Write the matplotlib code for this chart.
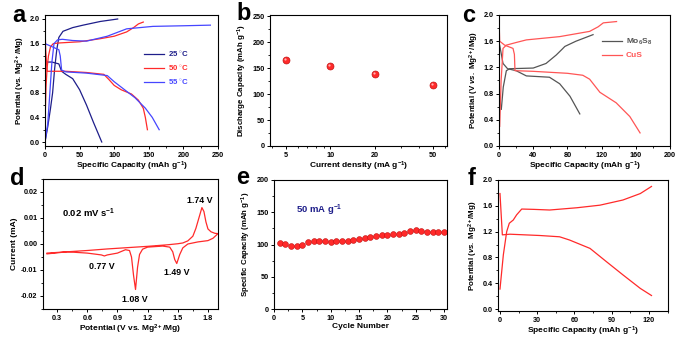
import matplotlib
matplotlib.use("Agg")
import matplotlib.pyplot as plt
from matplotlib.ticker import MultipleLocator, FixedLocator, NullFormatter, FormatStrFormatter
import matplotlib.transforms as mtransforms

plt.rcParams['font.family'] = ['Liberation Sans', 'DejaVu Sans']
plt.rcParams['font.weight'] = 'bold'
plt.rcParams['axes.labelweight'] = 'bold'
plt.rcParams['mathtext.fontset'] = 'custom'
plt.rcParams['mathtext.rm'] = 'Liberation Sans:bold'
plt.rcParams['mathtext.it'] = 'Liberation Sans:italic:bold'
plt.rcParams['mathtext.bf'] = 'Liberation Sans:bold'
plt.rcParams['mathtext.default'] = 'rm'
plt.rcParams['axes.linewidth'] = 0.8

# ---- (a) charge/discharge at different temperatures ----
temps = ["25 $^{\\circ}$C", "50 $^{\\circ}$C", "55 $^{\\circ}$C"]
temp_colors = ["#1e1e8a", "#ff2a2a", "#4646ff"]
dis_cap_25 = [0, 0.5, 10, 20, 24, 30, 40, 50, 60, 70, 82]
dis_v_25 = [1.9, 1.3, 1.3, 1.27, 1.15, 1.1, 1.03, 0.85, 0.6, 0.32, 0.0]
chg_cap_25 = [0, 4, 8, 11, 14, 17, 20, 26, 40, 55, 80, 105]
chg_v_25 = [0.0, 0.25, 0.55, 0.8, 1.2, 1.5, 1.7, 1.8, 1.86, 1.9, 1.96, 2.0]
dis_cap_50 = [0, 1, 3, 30, 60, 85, 92, 100, 110, 125, 135, 142, 145, 148]
dis_v_50 = [1.88, 1.5, 1.15, 1.15, 1.13, 1.1, 1.02, 0.92, 0.85, 0.78, 0.68, 0.55, 0.4, 0.2]
chg_cap_50 = [0, 1.5, 3, 5, 8, 12, 20, 50, 80, 100, 118, 128, 135, 142]
chg_v_50 = [0.3, 0.9, 1.2, 1.4, 1.55, 1.6, 1.61, 1.63, 1.68, 1.72, 1.79, 1.86, 1.92, 1.95]
dis_cap_55 = [0, 10, 20, 22, 24, 30, 60, 90, 100, 115, 130, 145, 155, 165]
dis_v_55 = [1.6, 1.55, 1.5, 1.4, 1.17, 1.14, 1.12, 1.08, 0.98, 0.85, 0.72, 0.55, 0.4, 0.2]
chg_cap_55 = [0, 4, 7, 10, 13, 18, 25, 40, 60, 90, 118, 156, 200, 239]
chg_v_55 = [0.0, 0.3, 0.8, 1.3, 1.6, 1.66, 1.67, 1.65, 1.64, 1.72, 1.84, 1.88, 1.89, 1.9]

# ---- (b) rate capability ----
current_density = [5, 10, 20, 50]
discharge_capacity = [165, 154, 138, 117]

# ---- (c) Mo6S8 vs CuS ----
mo_dis_cap = [0.8, 4.7, 10, 20, 32, 59, 71, 83, 94.5]
mo_dis_v = [1.54, 1.26, 1.18, 1.15, 1.07, 1.05, 0.95, 0.76, 0.49]
mo_chg_cap = [2.7, 5, 8.6, 12.5, 40, 55, 67, 74, 77, 90, 110]
mo_chg_v = [0.56, 0.9, 1.15, 1.18, 1.19, 1.26, 1.39, 1.48, 1.52, 1.6, 1.7]
cus_dis_cap = [0, 0.8, 6.6, 16.4, 18, 18.7, 40, 80, 98, 106, 118, 137, 153, 165]
cus_dis_v = [1.95, 1.6, 1.54, 1.49, 1.4, 1.15, 1.14, 1.11, 1.08, 1.02, 0.82, 0.66, 0.45, 0.2]
cus_chg_cap = [0.8, 2.5, 4.7, 8.6, 20, 32, 71, 106, 116, 122, 137.5]
cus_chg_v = [0.3, 1.0, 1.49, 1.54, 1.58, 1.62, 1.67, 1.75, 1.82, 1.88, 1.9]

# ---- (d) cyclic voltammogram ----
cv_up_v = [0.2, 0.4, 0.6, 0.8, 1.0, 1.2, 1.4, 1.5, 1.55, 1.6, 1.65, 1.68, 1.71, 1.74,
           1.76, 1.78, 1.8, 1.83, 1.87, 1.9]
cv_up_i = [-0.0035, -0.003, -0.0025, -0.0019, -0.0014, -0.0009, -0.0003, 0.0001, 0.0004,
           0.0012, 0.003, 0.006, 0.01, 0.014, 0.0125, 0.0085, 0.0058, 0.0047, 0.0041, 0.004]
cv_down_v = [1.9, 1.85, 1.8, 1.7, 1.6, 1.55, 1.52, 1.49, 1.47, 1.45, 1.42, 1.35, 1.2, 1.15,
             1.12, 1.1, 1.08, 1.06, 1.04, 1.02, 0.98, 0.9, 0.8, 0.77, 0.74, 0.6, 0.4, 0.2]
cv_down_i = [0.004, 0.0022, 0.0013, 0.0008, 0.0, -0.0015, -0.004, -0.0075, -0.006, -0.003,
             -0.0012, -0.0008, -0.0012, -0.002, -0.004, -0.009, -0.0175, -0.012, -0.005,
             -0.0025, -0.0022, -0.0035, -0.0042, -0.0046, -0.0042, -0.0035, -0.003, -0.0038]
cv_peaks = [0.77, 1.08, 1.49, 1.74]

# ---- (e) cycling at 50 mA/g ----
cycles = list(range(1, 31))
cycle_capacity = [103, 101, 98, 97, 100, 104, 106, 105, 105, 104, 105, 105, 106, 107, 109,
                  110, 112, 113, 114, 115, 116, 117, 118, 121, 122, 121, 120, 120, 119, 119]

# ---- (f) single charge/discharge ----
f_dis_cap = [0, 1.9, 8, 32, 48, 56, 72.5, 86, 99, 113, 122]
f_dis_v = [1.79, 1.15, 1.16, 1.14, 1.12, 1.07, 0.94, 0.73, 0.53, 0.32, 0.21]
f_chg_cap = [0, 2.7, 5.4, 7.5, 10.7, 13.4, 17.5, 27, 40, 62, 80.5, 99, 113, 122]
f_chg_v = [0.31, 0.84, 1.2, 1.33, 1.38, 1.46, 1.55, 1.545, 1.535, 1.57, 1.61, 1.69, 1.79, 1.9]

RED = "#ff2a2a"
TICK_FS = 5.2
XLABEL_FS = 6.0
YLABEL_FS = 5.7
LW = 0.9

fig = plt.figure(figsize=(6.8, 3.42), dpi=100)
W, H = 680.0, 342.0


def make_axes(l, r, t, b):
    return fig.add_axes([l / W, 1 - b / H, (r - l) / W, (b - t) / H])


def style(ax):
    ax.tick_params(which='major', direction='out', length=2.5, width=0.7,
                   labelsize=TICK_FS, pad=1.5)
    ax.tick_params(which='minor', direction='out', length=1.5, width=0.6)
    for lab in ax.get_xticklabels() + ax.get_yticklabels():
        lab.set_fontweight('bold')


def panel_letter(x, y, s):
    fig.text(x / W, 1 - y / H, s, fontsize=17, fontweight='bold', va='top', ha='left')


sup = "$^{2+}$"
cap_label = "Specific Capacity (mAh g$^{-1}$)"

# (a)
ax = make_axes(45, 218, 15, 146)
pairs = [(dis_cap_25, dis_v_25, chg_cap_25, chg_v_25),
         (dis_cap_50, dis_v_50, chg_cap_50, chg_v_50),
         (dis_cap_55, dis_v_55, chg_cap_55, chg_v_55)]
for (dc, dv, cc, cvv), col, lab in zip(pairs, temp_colors, temps):
    ax.plot(dc, dv, color=col, lw=LW, label=lab)
    ax.plot(cc, cvv, color=col, lw=LW)
ax.set_xlim(0, 250)
ax.set_ylim(-0.065, 2.065)
ax.xaxis.set_major_locator(MultipleLocator(50))
ax.xaxis.set_minor_locator(MultipleLocator(25))
ax.yaxis.set_major_locator(MultipleLocator(0.4))
ax.yaxis.set_minor_locator(MultipleLocator(0.2))
ax.yaxis.set_major_formatter(FormatStrFormatter('%.1f'))
ax.set_xlabel(cap_label, fontsize=XLABEL_FS, labelpad=1)
ax.set_ylabel("Potential (vs. Mg" + sup + "/Mg)", fontsize=YLABEL_FS, labelpad=2)
ax.legend(loc='upper left', bbox_to_anchor=(0.57, 0.74), frameon=False,
          fontsize=5.6, handlelength=2.6, labelspacing=0.6, handletextpad=0.6,
          labelcolor='linecolor', borderaxespad=0, borderpad=0)
style(ax)
panel_letter(12, 4, "a")

# (b)
ax = make_axes(270, 447, 15, 146)
ax.plot(current_density, discharge_capacity, 'o', ms=5, mfc=RED, mec="#c01010", mew=0.5)
shift = ax.transData + mtransforms.ScaledTranslation(-0.6 / 72, 0.6 / 72, fig.dpi_scale_trans)
ax.plot(current_density, discharge_capacity, 'o', ms=1.6, mfc="#ffb0b0", mec='none',
        transform=shift)
ax.set_xscale('log')
ax.set_xlim(3.9, 62)
ax.set_ylim(0, 252)
ax.xaxis.set_major_locator(FixedLocator(current_density))
ax.xaxis.set_minor_locator(FixedLocator([4, 6, 7, 8, 9, 30, 40, 60]))
ax.xaxis.set_minor_formatter(NullFormatter())
ax.set_xticklabels([str(v) for v in current_density])
ax.yaxis.set_major_locator(MultipleLocator(50))
ax.yaxis.set_minor_locator(MultipleLocator(25))
ax.set_xlabel("Current density (mA g$^{-1}$)", fontsize=XLABEL_FS, labelpad=1)
ax.set_ylabel("Discharge Capacity (mAh g$^{-1}$)", fontsize=YLABEL_FS, labelpad=2)
style(ax)
panel_letter(236, 2, "b")

# (c)
ax = make_axes(499, 670, 15, 146)
GREY = "#555555"
CUS = "#ff5555"
ax.plot(mo_dis_cap, mo_dis_v, color=GREY, lw=LW, label="Mo$_6$S$_8$")
ax.plot(mo_chg_cap, mo_chg_v, color=GREY, lw=LW)
ax.plot(cus_dis_cap, cus_dis_v, color=CUS, lw=LW, label="CuS")
ax.plot(cus_chg_cap, cus_chg_v, color=CUS, lw=LW)
ax.set_xlim(0, 200)
ax.set_ylim(0, 2.0)
ax.xaxis.set_major_locator(MultipleLocator(40))
ax.xaxis.set_minor_locator(MultipleLocator(20))
ax.yaxis.set_major_locator(MultipleLocator(0.4))
ax.yaxis.set_minor_locator(MultipleLocator(0.2))
ax.yaxis.set_major_formatter(FormatStrFormatter('%.1f'))
ax.set_xlabel(cap_label, fontsize=XLABEL_FS, labelpad=1)
ax.set_ylabel("Potential (V $\\it{vs.}$ Mg" + sup + "/Mg)", fontsize=YLABEL_FS, labelpad=2)
ax.legend(loc='upper left', bbox_to_anchor=(0.6, 0.83), frameon=False, fontsize=6.0,
          handlelength=2.4, labelspacing=0.5, handletextpad=0.5, labelcolor='linecolor',
          borderaxespad=0, borderpad=0)
style(ax)
panel_letter(462, 4, "c")

# (d)
ax = make_axes(43, 218, 179, 309)
ax.plot(cv_up_v + cv_down_v, cv_up_i + cv_down_i, color=RED, lw=LW)
ax.set_xlim(0.16, 1.9)
ax.set_ylim(-0.025, 0.025)
ax.xaxis.set_major_locator(MultipleLocator(0.3))
ax.xaxis.set_minor_locator(MultipleLocator(0.15))
ax.yaxis.set_major_locator(MultipleLocator(0.01))
ax.yaxis.set_minor_locator(MultipleLocator(0.005))
ax.xaxis.set_major_formatter(FormatStrFormatter('%.1f'))
ax.yaxis.set_major_formatter(FormatStrFormatter('%.2f'))
ax.set_xlabel("Potential (V vs. Mg" + sup + "/Mg)", fontsize=XLABEL_FS, labelpad=1)
ax.set_ylabel("Current (mA)", fontsize=XLABEL_FS, labelpad=2)
ax.text(0.11, 0.71, "0.02 mV s$^{-1}$", transform=ax.transAxes, fontsize=6.8, fontweight='bold')
peak_label_pos = {0.77: (0.74, -0.0085), 1.08: (1.07, -0.0215),
                  1.49: (1.49, -0.0110), 1.74: (1.72, 0.0168)}
for p in cv_peaks:
    x, y = peak_label_pos[p]
    ax.text(x, y, f"{p:.2f} V", fontsize=6.4, fontweight='bold', ha='center', va='center')
style(ax)
panel_letter(10, 167, "d")

# (e)
ax = make_axes(274, 447, 180, 309)
ax.plot(cycles, cycle_capacity, 'o', ms=4.2, mfc=RED, mec="#c01010", mew=0.4)
ax.set_xlim(0, 30.5)
ax.set_ylim(0, 200)
ax.xaxis.set_major_locator(MultipleLocator(5))
ax.xaxis.set_minor_locator(MultipleLocator(2.5))
ax.yaxis.set_major_locator(MultipleLocator(50))
ax.yaxis.set_minor_locator(MultipleLocator(25))
ax.set_xlabel("Cycle Number", fontsize=XLABEL_FS, labelpad=1)
ax.set_ylabel(cap_label, fontsize=YLABEL_FS, labelpad=2)
ax.text(0.13, 0.74, "50 mA g$^{-1}$", transform=ax.transAxes, fontsize=6.8,
        fontweight='bold', color="#1e1e8a")
style(ax)
panel_letter(236, 166, "e")

# (f)
ax = make_axes(498, 668, 180, 311)
ax.plot(f_dis_cap, f_dis_v, color=RED, lw=LW)
ax.plot(f_chg_cap, f_chg_v, color=RED, lw=LW)
ax.set_xlim(-1.6, 135.3)
ax.set_ylim(-0.03, 2.0)
ax.xaxis.set_major_locator(MultipleLocator(30))
ax.xaxis.set_minor_locator(MultipleLocator(15))
ax.yaxis.set_major_locator(MultipleLocator(0.4))
ax.yaxis.set_minor_locator(MultipleLocator(0.2))
ax.yaxis.set_major_formatter(FormatStrFormatter('%.1f'))
ax.set_xlabel(cap_label, fontsize=XLABEL_FS, labelpad=1)
ax.set_ylabel("Potential ($\\it{vs.}$ Mg" + sup + "/Mg)", fontsize=YLABEL_FS, labelpad=2)
style(ax)
panel_letter(468, 167, "f")

fig.savefig("out.png", dpi=100)
